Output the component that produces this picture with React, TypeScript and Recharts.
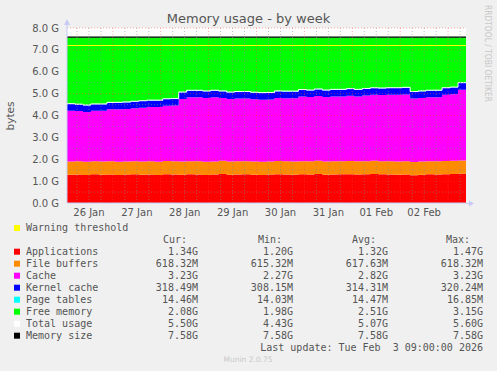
import React from 'react';
import { ComposedChart, Area, Line, XAxis, YAxis, CartesianGrid, ReferenceLine } from 'recharts';

// samples every 4 hours, hours counted from 26 Jan 00:00
const START_HOUR = 1;
const STEP_HOURS = 4;

const DAY_LABELS = ['26 Jan', '27 Jan', '28 Jan', '29 Jan', '30 Jan', '31 Jan', '01 Feb', '02 Feb'];
const Y_TICKS = [0, 1, 2, 3, 4, 5, 6, 7, 8];

// values in G
const APPS = [
  1.29, 1.30, 1.28, 1.31, 1.29, 1.30, 1.28, 1.30, 1.31, 1.29,
  1.30, 1.28, 1.32, 1.30, 1.29, 1.31, 1.30, 1.28, 1.30, 1.33,
  1.29, 1.30, 1.31, 1.29, 1.28, 1.30, 1.32, 1.30, 1.29, 1.31,
  1.30, 1.33, 1.29, 1.30, 1.31, 1.32, 1.30, 1.31, 1.33, 1.31,
  1.30, 1.29, 1.30, 1.27, 1.29, 1.31, 1.30, 1.32, 1.33, 1.34,
  1.34,
];
const BUFFERS = [
  0.602, 0.603, 0.603, 0.602, 0.603, 0.603, 0.603, 0.602, 0.603, 0.603,
  0.603, 0.603, 0.602, 0.603, 0.603, 0.603, 0.603, 0.603, 0.602, 0.603,
  0.603, 0.603, 0.603, 0.603, 0.603, 0.602, 0.603, 0.603, 0.603, 0.603,
  0.603, 0.603, 0.603, 0.604, 0.603, 0.603, 0.603, 0.603, 0.603, 0.603,
  0.603, 0.604, 0.603, 0.603, 0.603, 0.603, 0.604, 0.603, 0.604, 0.604,
  0.604,
];
const CACHE = [
  2.33, 2.30, 2.28, 2.30, 2.32, 2.38, 2.40, 2.40, 2.42, 2.46,
  2.48, 2.50, 2.52, 2.55, 2.86, 2.92, 2.93, 2.92, 2.93, 2.87,
  2.86, 2.87, 2.86, 2.85, 2.84, 2.83, 2.88, 2.89, 2.90, 2.95,
  2.94, 2.96, 2.95, 2.97, 2.96, 2.98, 2.97, 3.00, 3.01, 3.02,
  3.04, 3.05, 3.06, 2.90, 2.91, 2.92, 2.93, 3.02, 3.04, 3.23,
  3.23,
];
const KERNEL = [
  0.303, 0.302, 0.304, 0.305, 0.303, 0.304, 0.306, 0.305, 0.306, 0.307,
  0.306, 0.305, 0.307, 0.306, 0.308, 0.307, 0.306, 0.307, 0.308, 0.307,
  0.306, 0.307, 0.308, 0.309, 0.308, 0.307, 0.308, 0.309, 0.308, 0.309,
  0.308, 0.307, 0.309, 0.308, 0.309, 0.310, 0.309, 0.308, 0.309, 0.310,
  0.311, 0.310, 0.309, 0.307, 0.308, 0.309, 0.310, 0.311, 0.312, 0.311,
  0.311,
];
const PAGE_TABLES = [
  0.0140, 0.0141, 0.0139, 0.0142, 0.0141, 0.0140, 0.0143, 0.0141, 0.0142, 0.0140,
  0.0141, 0.0143, 0.0142, 0.0160, 0.0141, 0.0142, 0.0140, 0.0141, 0.0143, 0.0142,
  0.0141, 0.0140, 0.0142, 0.0141, 0.0143, 0.0142, 0.0141, 0.0145, 0.0142, 0.0141,
  0.0140, 0.0142, 0.0141, 0.0143, 0.0142, 0.0141, 0.0140, 0.0142, 0.0141, 0.0143,
  0.0142, 0.0141, 0.0164, 0.0142, 0.0141, 0.0140, 0.0142, 0.0141, 0.0143, 0.0141,
  0.0141,
];
const MEM_SIZE = 7.58;
const WARNING = 7.2;

const LEGEND_NAMES = ['Applications', 'File buffers', 'Cache', 'Kernel cache', 'Page tables', 'Free memory', 'Total usage', 'Memory size'];
const LEGEND_COLORS = ['#ff0000', '#ff8c00', '#ff00ff', '#0000ff', '#00ffff', '#00ff00', '#ffffff', '#000000'];
const CUR = ['1.34G', '618.32M', '3.23G', '318.49M', '14.46M', '2.08G', '5.50G', '7.58G'];
const MIN = ['1.20G', '615.32M', '2.27G', '308.15M', '14.03M', '1.98G', '4.43G', '7.58G'];
const AVG = ['1.32G', '617.63M', '2.82G', '314.31M', '14.47M', '2.51G', '5.07G', '7.58G'];
const MAX = ['1.47G', '618.32M', '3.23G', '320.24M', '16.85M', '3.15G', '5.60G', '7.58G'];

const data = APPS.map((a, i) => {
  const total = a + BUFFERS[i] + CACHE[i] + KERNEL[i] + PAGE_TABLES[i];
  return {
    t: START_HOUR + STEP_HOURS * i,
    apps: a,
    buffers: BUFFERS[i],
    cache: CACHE[i],
    kernel: KERNEL[i],
    pages: PAGE_TABLES[i],
    free: MEM_SIZE - total,
    total,
    mem: MEM_SIZE,
  };
});

const X_MIN = START_HOUR;
const X_MAX = START_HOUR + STEP_HOURS * (APPS.length - 1);
const noonTicks = DAY_LABELS.map((_, i) => 12 + 24 * i);

// rrdtool style grid: minor every 6h / 0.5G, major every day / 1G
const minorX: number[] = [];
const majorX: number[] = [];
for (let h = 6; h < X_MAX; h += 6) (h % 24 === 0 ? majorX : minorX).push(h);
const minorY = Y_TICKS.slice(0, -1).map((v) => v + 0.5);
const majorY = Y_TICKS.slice(1);

const TEXT = '#555';
const AXIS = '#c6caf4';
const SANS = 'DejaVu Sans, sans-serif';
const MONO = 'DejaVu Sans Mono, monospace';

const App: React.FC = () => {
  const rowY = (k: number) => 251.7 + 12 * k;

  return (
    <div style={{ position: 'absolute', left: 0, top: 0, width: 497, height: 371, background: '#f0f0f0', overflow: 'hidden' }}>
      <ComposedChart width={497} height={371} data={data} margin={{ top: 28, right: 31, left: 27, bottom: 148 }}>
        <CartesianGrid fill="#ffffff" stroke="none" horizontal={false} vertical={false} />
        <XAxis
          type="number"
          dataKey="t"
          domain={[X_MIN, X_MAX]}
          ticks={noonTicks}
          tickFormatter={(v: number) => DAY_LABELS[noonTicks.indexOf(v)] ?? ''}
          tick={{ fill: TEXT, fontSize: 10, fontFamily: SANS }}
          tickLine={false}
          tickSize={0}
          tickMargin={6}
          axisLine={{ stroke: AXIS }}
          height={20}
          allowDataOverflow
        />
        <YAxis
          type="number"
          domain={[0, 8]}
          ticks={Y_TICKS}
          tickFormatter={(v: number) => `${v.toFixed(1)} G`}
          tick={{ fill: TEXT, fontSize: 10, fontFamily: SANS }}
          tickLine={false}
          tickSize={0}
          tickMargin={8}
          axisLine={{ stroke: AXIS }}
          width={40}
        />
        <Area type="stepAfter" dataKey="apps" stackId="m" fill="#ff0000" fillOpacity={1} stroke="none" isAnimationActive={false} />
        <Area type="stepAfter" dataKey="buffers" stackId="m" fill="#ff8c00" fillOpacity={1} stroke="none" isAnimationActive={false} />
        <Area type="stepAfter" dataKey="cache" stackId="m" fill="#ff00ff" fillOpacity={1} stroke="none" isAnimationActive={false} />
        <Area type="stepAfter" dataKey="kernel" stackId="m" fill="#0000ff" fillOpacity={1} stroke="none" isAnimationActive={false} />
        <Area type="stepAfter" dataKey="pages" stackId="m" fill="#00ffff" fillOpacity={1} stroke="none" isAnimationActive={false} />
        <Area type="stepAfter" dataKey="free" stackId="m" fill="#00ff00" fillOpacity={1} stroke="none" isAnimationActive={false} />
        <Line type="stepAfter" dataKey="total" stroke="#ffffff" strokeWidth={1} dot={false} isAnimationActive={false} />
        <Line type="stepAfter" dataKey="mem" stroke="#000000" strokeWidth={1.2} dot={false} isAnimationActive={false} />
        <ReferenceLine y={WARNING} stroke="#ffff00" strokeWidth={1} />
        {minorX.map((h) => (
          <ReferenceLine key={`mx${h}`} x={h} stroke="#888" strokeOpacity={0.55} strokeDasharray="1 2" />
        ))}
        {minorY.map((v) => (
          <ReferenceLine key={`my${v}`} y={v} stroke="#888" strokeOpacity={0.55} strokeDasharray="1 2" />
        ))}
        {majorX.map((h) => (
          <ReferenceLine key={`Mx${h}`} x={h} stroke="#ff4040" strokeOpacity={0.45} strokeDasharray="1 2" />
        ))}
        {majorY.map((v) => (
          <ReferenceLine key={`My${v}`} y={v} stroke="#ff4040" strokeOpacity={0.45} strokeDasharray="1 2" />
        ))}
      </ComposedChart>

      <svg width={497} height={371} style={{ position: 'absolute', left: 0, top: 0, pointerEvents: 'none' }}>
        <text x={248.5} y={19} textAnchor="middle" dominantBaseline="middle" fontFamily={SANS} fontSize={13} fill={TEXT}>
          Memory usage - by week
        </text>
        <text x={11} y={116} transform="rotate(-90 11 116)" textAnchor="middle" dominantBaseline="middle" fontFamily={SANS} fontSize={10.5} fill={TEXT}>
          bytes
        </text>
        <text x={487} y={5} transform="rotate(90 487 5)" textAnchor="start" dominantBaseline="middle" fontFamily={SANS} fontSize={8} fill="#c8c8c8" textLength={97} lengthAdjust="spacingAndGlyphs">
          RRDTOOL / TOBI OETIKER
        </text>
        {/* axis arrows */}
        <line x1={67} y1={22} x2={67} y2={28} stroke={AXIS} />
        <polygon points="64,25 70,25 67,19" fill={AXIS} />
        <line x1={466} y1={203.5} x2={470} y2={203.5} stroke={AXIS} />
        <polygon points="469,200.5 469,206.5 474,203.5" fill={AXIS} />

        <g fontFamily={MONO} fontSize={10} fill={TEXT}>
          <rect x={14} y={225} width={6} height={6} fill="#ffff00" />
          <text x={26} y={227.7} dominantBaseline="middle">Warning threshold</text>
          <text x={187} y={240} textAnchor="end" dominantBaseline="middle">Cur:</text>
          <text x={282} y={240} textAnchor="end" dominantBaseline="middle">Min:</text>
          <text x={376} y={240} textAnchor="end" dominantBaseline="middle">Avg:</text>
          <text x={470} y={240} textAnchor="end" dominantBaseline="middle">Max:</text>
          {LEGEND_NAMES.map((name, k) => (
            <g key={name}>
              <rect x={14} y={rowY(k) - 3} width={6} height={6} fill={LEGEND_COLORS[k]} />
              <text x={26} y={rowY(k)} dominantBaseline="middle">{name}</text>
              <text x={198} y={rowY(k)} textAnchor="end" dominantBaseline="middle">{CUR[k]}</text>
              <text x={293} y={rowY(k)} textAnchor="end" dominantBaseline="middle">{MIN[k]}</text>
              <text x={388} y={rowY(k)} textAnchor="end" dominantBaseline="middle">{AVG[k]}</text>
              <text x={483} y={rowY(k)} textAnchor="end" dominantBaseline="middle">{MAX[k]}</text>
            </g>
          ))}
          <text x={483} y={347.7} textAnchor="end" dominantBaseline="middle" style={{ whiteSpace: 'pre' }}>
            {'Last update: Tue Feb  3 09:00:00 2026'}
          </text>
        </g>
        <text x={248} y={360} textAnchor="middle" dominantBaseline="middle" fontFamily={SANS} fontSize={7.5} fill="#c8c8c8">
          Munin 2.0.75
        </text>
      </svg>
    </div>
  );
};

export default App;
